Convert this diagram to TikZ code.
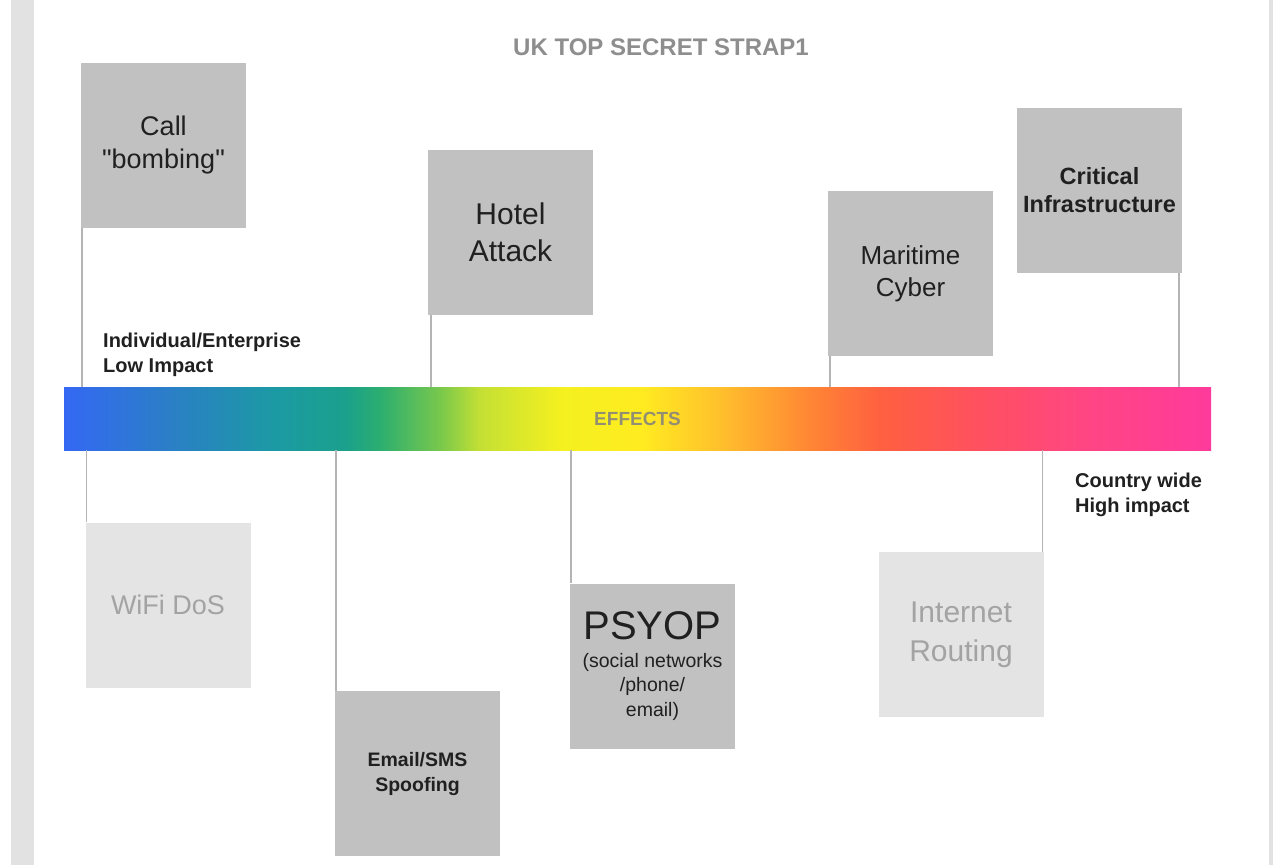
\documentclass[tikz,border=0pt]{standalone}
\usepackage{fontspec}
\setmainfont{Liberation Sans}
% same face without TeX ligatures, so that " stays a straight quote
\newfontfamily\straightsans{Liberation Sans}

% palette
\definecolor{strip}{HTML}{E2E2E2}
\definecolor{boxdark}{HTML}{C1C1C1}
\definecolor{boxlight}{HTML}{E4E4E4}
\definecolor{inkdark}{HTML}{202020}
\definecolor{inklight}{HTML}{A3A3A3}
\definecolor{linkgray}{HTML}{B4B4B4}
\definecolor{titlegray}{HTML}{8E8E8E}

% colour stops of the effects bar
\definecolor{e0}{HTML}{3468F4}
\definecolor{e1}{HTML}{2A80C4}
\definecolor{e2}{HTML}{1C9AA4}
\definecolor{e3}{HTML}{1AA08C}
\definecolor{e4}{HTML}{2CAE70}
\definecolor{e5}{HTML}{78C84C}
\definecolor{e6}{HTML}{C4E034}
\definecolor{e7}{HTML}{F4F020}
\definecolor{e8}{HTML}{FFEC20}
\definecolor{e9}{HTML}{FFC02C}
\definecolor{e10}{HTML}{FF8634}
\definecolor{e11}{HTML}{FF6040}
\definecolor{e12}{HTML}{FF5060}
\definecolor{e13}{HTML}{FF4682}
\definecolor{e14}{HTML}{FF3A9C}

\pgfdeclarehorizontalshading{effects}{100bp}{%
  color(0bp)=(e0); color(25bp)=(e0); color(29.84bp)=(e1); color(34.20bp)=(e2);
  color(37.25bp)=(e3); color(38.78bp)=(e4); color(41.39bp)=(e5); color(43.13bp)=(e6);
  color(46.62bp)=(e7); color(50.11bp)=(e8); color(53.60bp)=(e9); color(57.52bp)=(e10);
  color(60.57bp)=(e11); color(64.93bp)=(e12); color(69.29bp)=(e13); color(75bp)=(e14);
  color(100bp)=(e14)}

\begin{document}
\begin{tikzpicture}[x=1pt,y=-1pt,
  card/.style={rectangle, minimum width=165pt, minimum height=165pt,
    inner sep=0pt, align=center},
  darkcard/.style={card, fill=boxdark, text=inkdark},
  lightcard/.style={card, fill=boxlight, text=inklight},
  link/.style={draw=linkgray, line width=1.5pt},
  note/.style={inner sep=0pt, align=left, text=inkdark,
    font=\fontsize{20}{25}\selectfont\bfseries},
]
\useasboundingbox (0,0) rectangle (1279,865);
\fill[white] (0,0) rectangle (1279,865);
\fill[strip] (11,0) rectangle (34,865);
\fill[strip] (1269,0) rectangle (1273,865);

% heading
\node[text=titlegray, font=\fontsize{24}{28}\selectfont\bfseries, inner sep=0pt,
  anchor=base] (title) at (661,55) {UK TOP SECRET STRAP1};

% effects scale
\node[rectangle, minimum width=1147pt, minimum height=63pt, inner sep=0pt,
  shading=effects, text=black!50, text opacity=0.85,
  font=\fontsize{19}{22}\selectfont\bfseries] (bar) at (637.5,418.5) {EFFECTS};

% scale end notes
\node[note, anchor=north west] (low) at (103,333)
  {Individual/Enterprise\\Low Impact};
\node[note, anchor=north west] (high) at (1075,473)
  {Country wide\\High impact};

% scenarios above the scale
\node[darkcard, font=\straightsans\fontsize{27}{33}\selectfont] (call) at (163.5,145.5)
  {Call\\"bombing"};
\node[darkcard, font=\fontsize{30}{37}\selectfont] (hotel) at (510.5,232.5)
  {Hotel\\Attack};
\node[darkcard, font=\fontsize{26}{32}\selectfont] (maritime) at (910.5,273.5)
  {Maritime\\Cyber};
\node[darkcard, font=\fontsize{23.5}{28}\selectfont\bfseries] (critical) at (1099.5,190.5)
  {Critical\\Infrastructure};

% scenarios below the scale
\node[lightcard, font=\fontsize{27}{33}\selectfont] (wifi) at (168,605)
  {WiFi DoS};
\node[darkcard, font=\fontsize{19.5}{25}\selectfont\bfseries] (email) at (417.5,773.5)
  {Email/SMS\\Spoofing};
\node[darkcard, font=\fontsize{19.5}{24.5}\selectfont] (psyop) at (652.5,666)
  {{\fontsize{40}{44}\selectfont PSYOP}\\[3pt](social networks\\/phone/\\email)};
\node[lightcard, font=\fontsize{30}{39}\selectfont] (internet) at (961,634.5)
  {Internet\\Routing};

% attachment points of the leader lines
\coordinate (callfoot) at ([xshift=1pt]call.south west);
\coordinate (hotelfoot) at ([xshift=3pt]hotel.south west);
\coordinate (maritimefoot) at ([xshift=2pt]maritime.south west);
\coordinate (criticalfoot) at ([xshift=-3pt]critical.south east);
\coordinate (wifihead) at ([xshift=1pt]wifi.north west);
\coordinate (emailhead) at ([xshift=1pt]email.north west);
\coordinate (psyophead) at ([xshift=1pt]psyop.north west);
\coordinate (internethead) at ([xshift=-1pt]internet.north east);

% leader lines
\draw[link] (callfoot) -- (callfoot |- bar.north);
\draw[link] (hotelfoot) -- (hotelfoot |- bar.north);
\draw[link] (maritimefoot) -- (maritimefoot |- bar.north);
\draw[link] (criticalfoot) -- (criticalfoot |- bar.north);
\draw[link] (wifihead |- bar.south) -- (wifihead);
\draw[link] (emailhead |- bar.south) -- (emailhead);
\draw[link] (psyophead |- bar.south) -- (psyophead);
\draw[link] (internethead |- bar.south) -- (internethead);
\end{tikzpicture}
\end{document}
